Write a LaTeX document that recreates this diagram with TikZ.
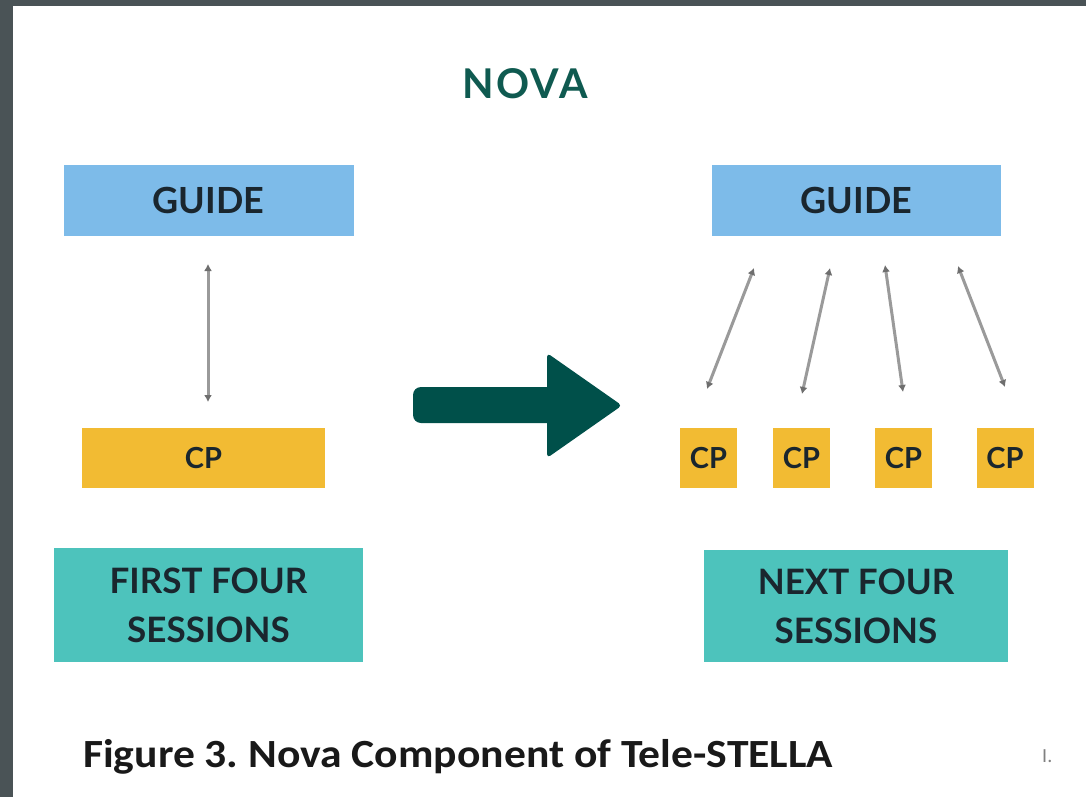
\documentclass[tikz,border=0pt]{standalone}
\usepackage{fontspec}
\usetikzlibrary{arrows.meta}
\newfontfamily\lato{Lato}
\newfontfamily\carlito{Carlito}
\definecolor{frame}{HTML}{4A5356}
\definecolor{guideblue}{HTML}{7DBBE9}
\definecolor{cpyellow}{HTML}{F2BB33}
\definecolor{sessteal}{HTML}{4DC3BC}
\definecolor{novagreen}{HTML}{0F5A50}
\definecolor{bigarrow}{HTML}{00504A}
\definecolor{boxtext}{HTML}{1A262E}
\definecolor{linkgray}{HTML}{9A9A9A}
\definecolor{tipgray}{HTML}{6E6E6E}
\tikzset{
  box/.style={inner sep=0pt, outer sep=0pt, align=center, text=boxtext,
    font=\lato\bfseries},
  guidebox/.style={box, fill=guideblue, minimum width=290pt, minimum height=71pt,
    font=\lato\bfseries\fontsize{36}{44}\selectfont},
  cpbox/.style={box, fill=cpyellow, minimum height=60pt,
    font=\lato\bfseries\fontsize{29}{36}\selectfont},
  sessbox/.style={box, fill=sessteal, minimum height=114pt,
    font=\lato\bfseries\fontsize{35}{49}\selectfont},
  link/.style={draw=linkgray, line width=3pt,
    {Latex[length=7pt,width=8pt,color=tipgray]}-{Latex[length=7pt,width=8pt,color=tipgray]}}
}
\begin{document}
\begin{tikzpicture}[x=1pt,y=-1pt]
\useasboundingbox (0,0) rectangle (1086,797);
\fill[frame] (0,0) rectangle (1086,797);
\fill[white] (13,6) rectangle (1086,797);

% title
\node[text=novagreen, font=\lato\bfseries\fontsize{41}{48}\selectfont\addfontfeature{LetterSpace=6}] (title) at (525,84) {NOVA};

% left side
\node[guidebox] (lguide) at (208.5,200.5) {GUIDE};
\node[cpbox, minimum width=243pt] (lcp) at (203.5,458) {CP};
\node[sessbox, minimum width=309pt] (lsess) at (208.5,605) {FIRST FOUR\\SESSIONS};
\coordinate (la) at (208,264);
\coordinate (lb) at (208,402);
\draw[link] (la) -- (lb);

% big arrow
\fill[bigarrow, rounded corners=8pt] (413,387) rectangle (562,423);
\fill[bigarrow, rounded corners=4pt] (547,353) -- (622,405.5) -- (547,458) -- cycle;

% right side
\node[guidebox, minimum width=289pt] (rguide) at (856.5,200) {GUIDE};
\node[cpbox, minimum width=57pt] (cp1) at (708.5,458) {CP};
\node[cpbox, minimum width=57pt] (cp2) at (801.5,458) {CP};
\node[cpbox, minimum width=57pt] (cp3) at (903.5,458) {CP};
\node[cpbox, minimum width=57pt] (cp4) at (1005,458) {CP};
\node[sessbox, minimum width=304pt, minimum height=112pt] (rsess) at (856,606) {NEXT FOUR\\SESSIONS};

\coordinate (a1) at (754,268);
\coordinate (b1) at (707,389);
\coordinate (a2) at (830,268);
\coordinate (b2) at (802,394);
\coordinate (a3) at (885,265);
\coordinate (b3) at (903,392);
\coordinate (a4) at (958,266);
\coordinate (b4) at (1005,387);
\draw[link] (a1) -- (b1);
\draw[link] (a2) -- (b2);
\draw[link] (a3) -- (b3);
\draw[link] (a4) -- (b4);

% caption
\node[anchor=base west, inner sep=0pt, xscale=1.09, transform shape, font=\carlito\bfseries\fontsize{40}{46}\selectfont\frenchspacing, text=black!90] (cap) at (83,767) {Figure 3. Nova Component of Tele-STELLA};
\node[anchor=base west, inner sep=0pt, font=\carlito\fontsize{20}{24}\selectfont, text=gray] (mark) at (1042,762) {I.};
\end{tikzpicture}
\end{document}
